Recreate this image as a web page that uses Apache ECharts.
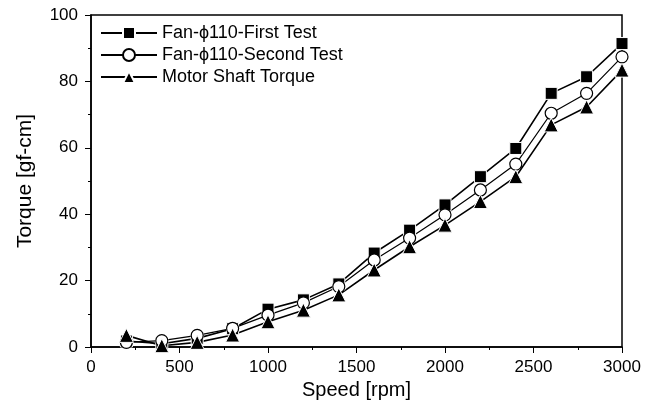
<!DOCTYPE html>
<html>
<head>
<meta charset="utf-8">
<script src="https://cdn.jsdelivr.net/npm/echarts@6/dist/echarts.min.js"></script>
<style>
html,body{margin:0;padding:0;background:#fff;}
#chart{width:657px;height:401px;}
</style>
</head>
<body>
<div id="chart"></div>
<script>
var speed = [200, 400, 600, 800, 1000, 1200, 1400, 1600, 1800, 2000, 2200, 2400, 2600, 2800, 3000];
var firstTest = [1.8, 1.0, 2.6, 5.5, 11.4, 14.2, 19.0, 28.3, 35.2, 42.8, 51.3, 59.8, 76.4, 81.4, 91.4];
var secondTest = [1.4, 1.9, 3.5, 5.6, 9.6, 13.3, 18.2, 26.2, 32.8, 39.8, 47.3, 55.1, 70.4, 76.4, 87.4];
var motorTorque = [3.5, 0.4, 1.4, 3.6, 7.6, 11.1, 15.7, 23.2, 30.2, 36.7, 43.8, 51.3, 66.9, 72.3, 83.4];
var seriesNames = ['Fan-\u03d5110-First Test', 'Fan-\u03d5110-Second Test', 'Motor Shaft Torque'];
var xTicks = [0, 500, 1000, 1500, 2000, 2500, 3000];
var yTicks = [0, 20, 40, 60, 80, 100];

function pairs(vals) { return speed.map(function (s, i) { return [s, vals[i]]; }); }

var font = 'Liberation Sans, Arial, Helvetica, sans-serif';
var chart = echarts.init(document.getElementById('chart'), null, {renderer: 'canvas'});
chart.setOption({
  animation: false,
  backgroundColor: '#fff',
  grid: {left: 91, top: 15, right: 35, bottom: 54, containLabel: false, outerBoundsMode: 'none', show: true, borderColor: '#000', borderWidth: 1.5, backgroundColor: 'transparent'},
  legend: {
    left: 95, top: 19, orient: 'vertical', itemGap: 4, itemWidth: 56, itemHeight: 15,
    textStyle: {fontFamily: font, fontSize: 18, color: '#000'},
    data: seriesNames
  },
  xAxis: {
    type: 'value', min: xTicks[0], max: xTicks[xTicks.length - 1], interval: xTicks[1] - xTicks[0],
    name: 'Speed [rpm]', nameLocation: 'middle', nameGap: 30,
    nameTextStyle: {fontFamily: font, fontSize: 20, color: '#000'},
    axisLine: {onZero: false, lineStyle: {color: '#000', width: 1.5}},
    axisTick: {inside: false, length: 6, lineStyle: {color: '#000'}},
    minorTick: {show: true, splitNumber: 2, length: 3, lineStyle: {color: '#000'}},
    axisLabel: {fontFamily: font, fontSize: 17, color: '#000', margin: 12, formatter: function (v) { return String(v); }},
    splitLine: {show: false}
  },
  yAxis: {
    type: 'value', min: yTicks[0], max: yTicks[yTicks.length - 1], interval: yTicks[1] - yTicks[0],
    name: 'Torque [gf-cm]', nameLocation: 'middle', nameGap: 55, nameRotate: 90,
    nameTextStyle: {fontFamily: font, fontSize: 21, color: '#000'},
    axisLine: {onZero: false, lineStyle: {color: '#000', width: 1.5}},
    axisTick: {inside: false, length: 6, lineStyle: {color: '#000'}},
    minorTick: {show: true, splitNumber: 2, length: 3, lineStyle: {color: '#000'}},
    axisLabel: {fontFamily: font, fontSize: 17, color: '#000', margin: 13},
    splitLine: {show: false}
  },
  series: [
    {
      name: seriesNames[0], type: 'line', data: pairs(firstTest),
      symbol: 'rect', symbolSize: 12,
      lineStyle: {color: '#000', width: 1.6},
      itemStyle: {color: '#000', borderColor: '#fff', borderWidth: 1}
    },
    {
      name: seriesNames[1], type: 'line', data: pairs(secondTest),
      symbol: 'circle', symbolSize: 12,
      lineStyle: {color: '#000', width: 1.2},
      itemStyle: {color: '#fff', borderColor: '#000', borderWidth: 1.2}
    },
    {
      name: seriesNames[2], type: 'line', data: pairs(motorTorque),
      symbol: 'triangle', symbolSize: 14,
      lineStyle: {color: '#000', width: 1.6},
      itemStyle: {color: '#000', borderColor: '#fff', borderWidth: 1}
    }
  ]
});
</script>
</body>
</html>
